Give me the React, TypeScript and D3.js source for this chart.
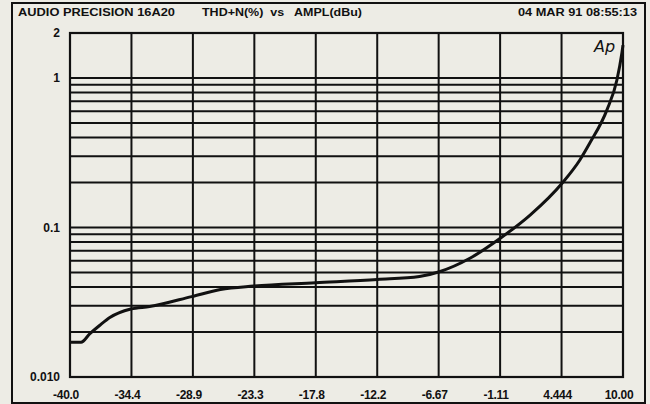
import React from "react";
import * as d3 from "d3";

const ampl = [-40, -39.0, -38.2, -37.3, -36.4, -34.5, -32.8, -29.0, -26.4, -23.4, -17.8, -12.2, -8.4, -6.6, -3.8, -0.97, 1.6, 4.55, 6.1, 7.0, 8.55, 9.45, 9.9, 10.0];
const thdn = [0.0171, 0.0171, 0.0195, 0.0222, 0.025, 0.0285, 0.0296, 0.0345, 0.0385, 0.0406, 0.0427, 0.0449, 0.047, 0.0506, 0.0625, 0.086, 0.121, 0.2, 0.283, 0.367, 0.612, 0.97, 1.47, 1.66];

const xTicks = [-40, -34.444, -28.889, -23.333, -17.778, -12.222, -6.667, -1.111, 4.444, 10];
const xTickLabels = ["-40.0", "-34.4", "-28.9", "-23.3", "-17.8", "-12.2", "-6.67", "-1.11", "4.444", "10.00"];
const yTicks = [2, 1, 0.1, 0.01];
const yTickLabels = ["2", "1", "0.1", "0.010"];
const yGrid = [1, 0.9, 0.8, 0.7, 0.6, 0.5, 0.4, 0.3, 0.2, 0.1, 0.09, 0.08, 0.07, 0.06, 0.05, 0.04, 0.03, 0.02];

const titleLeft = "AUDIO PRECISION 16A20";
const titleMid = "THD+N(%)  vs   AMPL(dBu)";
const titleRight = "04 MAR 91 08:55:13";

const W = 650, H = 404;
const M = { left: 70, right: 623, top: 33, bottom: 377 };
const BG = "#edece5";
const INK = "#111";
const FONT = "'Liberation Sans', Arial, Helvetica, sans-serif";

export default function App() {
  const x = d3.scaleLinear().domain([-40, 10]).range([M.left, M.right]);
  const y = d3.scaleLog().domain([0.01, 2]).range([M.bottom, M.top]);
  const pts: [number, number][] = ampl.map((a, i) => [a, thdn[i]]);
  const line = d3
    .line<[number, number]>()
    .x((d) => x(d[0]))
    .y((d) => y(d[1]))
    .curve(d3.curveMonotoneX);

  return (
    <svg width={W} height={H} style={{ position: "absolute", left: 0, top: 0 }} fontFamily={FONT}>
      <rect x={0} y={0} width={W} height={H} fill={BG} />
      <rect x={12} y={3} width={633} height={400} fill="none" stroke={INK} strokeWidth={2} />
      <text x={18} y={16} fontSize={11.5} fontWeight="bold" fill={INK} textLength={157} lengthAdjust="spacingAndGlyphs">{titleLeft}</text>
      <text x={202} y={16} fontSize={11.5} fontWeight="bold" fill={INK} textLength={160} lengthAdjust="spacingAndGlyphs" style={{ whiteSpace: "pre" }}>{titleMid}</text>
      <text x={637} y={16} fontSize={11.5} fontWeight="bold" fill={INK} textAnchor="end" textLength={119} lengthAdjust="spacingAndGlyphs">{titleRight}</text>

      {yGrid.map((v, i) => (
        <line key={"h" + i} x1={M.left} x2={M.right} y1={y(v)} y2={y(v)} stroke={INK} strokeWidth={2} />
      ))}
      {xTicks.map((v, i) => (
        <line key={"v" + i} x1={x(v)} x2={x(v)} y1={M.top} y2={M.bottom} stroke={INK} strokeWidth={2} />
      ))}
      <rect x={M.left} y={M.top} width={M.right - M.left} height={M.bottom - M.top} fill="none" stroke={INK} strokeWidth={2.2} />

      {yTicks.map((v, i) => (
        <text key={"yl" + i} x={60} y={y(v)} dy="0.35em" fontSize={12} fontWeight="bold" textAnchor="end" fill={INK}>
          {yTickLabels[i]}
        </text>
      ))}
      {xTicks.map((v, i) => (
        <text key={"xl" + i} x={x(v) - 4} y={399} fontSize={12} fontWeight="bold" textAnchor="middle" fill={INK} letterSpacing={-0.3}>
          {xTickLabels[i]}
        </text>
      ))}

      <path d={line(pts) || ""} fill="none" stroke={INK} strokeWidth={3} strokeLinejoin="round" />
      <text x={594} y={52} fontSize={16} fontStyle="italic" fill={INK} fontFamily="'DejaVu Sans', sans-serif">Ap</text>
    </svg>
  );
}
